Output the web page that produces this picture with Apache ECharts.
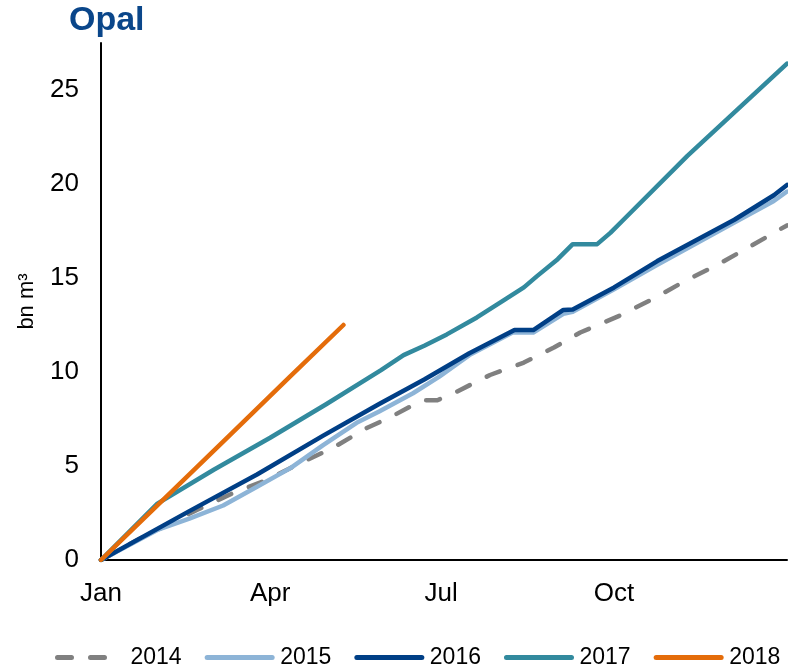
<!DOCTYPE html>
<html>
<head>
<meta charset="utf-8">
<title>Opal</title>
<script src="https://cdn.jsdelivr.net/npm/echarts@6/dist/echarts.min.js"></script>
<style>
  html, body { margin: 0; padding: 0; background: #fff; }
  #main { width: 788px; height: 668px; }
</style>
</head>
<body>
<div id="main"></div>
<script>
// x = day of year, y = cumulative flow in bn m3
const monthDays = [0, 90, 181, 273];
const monthLabels = ["Jan", "Apr", "Jul", "Oct"];
const yTicks = [0, 5, 10, 15, 20, 25];

const days2014 = [0, 20, 51, 70, 88, 106, 124, 141, 154, 171, 179, 189, 207, 225, 241, 255, 276, 294, 310, 328, 344, 365];
const vals2014 = [0, 1.1, 2.66, 3.55, 4.25, 5.15, 6.0, 7.0, 7.6, 8.5, 8.5, 8.94, 9.84, 10.5, 11.3, 12.1, 13.0, 13.9, 14.8, 15.7, 16.6, 17.8];

const days2015 = [0, 30, 47, 65, 83, 101, 118, 136, 148, 166, 180, 196, 219, 230, 246, 251, 273, 296, 336, 358, 365];
const vals2015 = [0, 1.6, 2.2, 2.9, 3.9, 4.9, 6.1, 7.3, 7.9, 8.87, 9.75, 10.9, 12.1, 12.1, 13.1, 13.2, 14.4, 15.7, 17.9, 19.1, 19.6];

const days2016 = [0, 47, 83, 118, 148, 172, 196, 220, 230, 246, 251, 273, 296, 337, 358, 365];
const vals2016 = [0, 2.6, 4.55, 6.6, 8.3, 9.6, 11.0, 12.23, 12.23, 13.3, 13.33, 14.5, 15.9, 18.1, 19.4, 19.95];

const days2017 = [0, 30, 60, 90, 120, 149, 161, 172, 184, 200, 214, 225, 232, 243, 251, 264, 271, 278, 312, 365];
const vals2017 = [0, 3.0, 4.8, 6.5, 8.3, 10.1, 10.9, 11.4, 12.0, 12.9, 13.8, 14.5, 15.1, 16.0, 16.8, 16.8, 17.4, 18.1, 21.5, 26.4];

const days2018 = [0, 30, 65, 100, 129];
const vals2018 = [0, 2.9, 6.3, 9.7, 12.5];

const seriesNames = ["2014", "2015", "2016", "2017", "2018"];
const seriesColors = ["#808080", "#8db4d7", "#003f86", "#328a9e", "#e46c0a"];
const seriesDays = [days2014, days2015, days2016, days2017, days2018];
const seriesVals = [vals2014, vals2015, vals2016, vals2017, vals2018];

const fontFamily = "'Liberation Sans', Arial, sans-serif";

const chart = echarts.init(document.getElementById("main"));

const series = seriesNames.map((name, i) => ({
  name: name,
  type: "line",
  symbol: "none",
  data: seriesDays[i].map((d, j) => [d, seriesVals[i][j]]),
  lineStyle: {
    color: seriesColors[i],
    width: 4.5,
    type: i === 0 ? [14, 19] : "solid",
    cap: "round",
    join: "round"
  },
  itemStyle: { color: seriesColors[i] }
}));

const option = {
  animation: false,
  title: {
    text: "Opal",
    left: 69,
    top: 4,
    padding: 0,
    textStyle: {
      fontFamily: fontFamily,
      fontSize: 34,
      fontWeight: "bold",
      color: "#0a468a"
    }
  },
  legend: {
    data: seriesNames,
    left: 55,
    top: 646,
    padding: 0,
    itemWidth: 65,
    itemHeight: 14,
    itemGap: 23,
    itemStyle: { opacity: 0 },
    lineStyle: { width: 5, cap: "round" },
    textStyle: {
      fontFamily: fontFamily,
      fontSize: 23,
      color: "#000",
      padding: [0, 0, 0, 3]
    }
  },
  grid: {
    left: 101,
    right: 1,
    top: 43,
    bottom: 108,
    containLabel: false
  },
  xAxis: {
    type: "value",
    min: 0,
    max: 365,
    splitLine: { show: false },
    axisTick: { show: false },
    axisLine: { lineStyle: { color: "#000", width: 2 } },
    axisLabel: {
      customValues: monthDays,
      formatter: (v) => monthLabels[monthDays.indexOf(v)] || "",
      margin: 21,
      fontFamily: fontFamily,
      fontSize: 26,
      color: "#000"
    }
  },
  yAxis: {
    type: "value",
    min: 0,
    max: 27.5,
    name: "bn m³",
    nameLocation: "middle",
    nameGap: 63,
    nameTextStyle: {
      fontFamily: fontFamily,
      fontSize: 22,
      color: "#000"
    },
    splitLine: { show: false },
    axisTick: { show: false },
    axisLine: { show: true, lineStyle: { color: "#000", width: 2 } },
    axisLabel: {
      customValues: yTicks,
      margin: 22,
      fontFamily: fontFamily,
      fontSize: 26,
      color: "#000"
    }
  },
  series: series
};

chart.setOption(option);
</script>
</body>
</html>
